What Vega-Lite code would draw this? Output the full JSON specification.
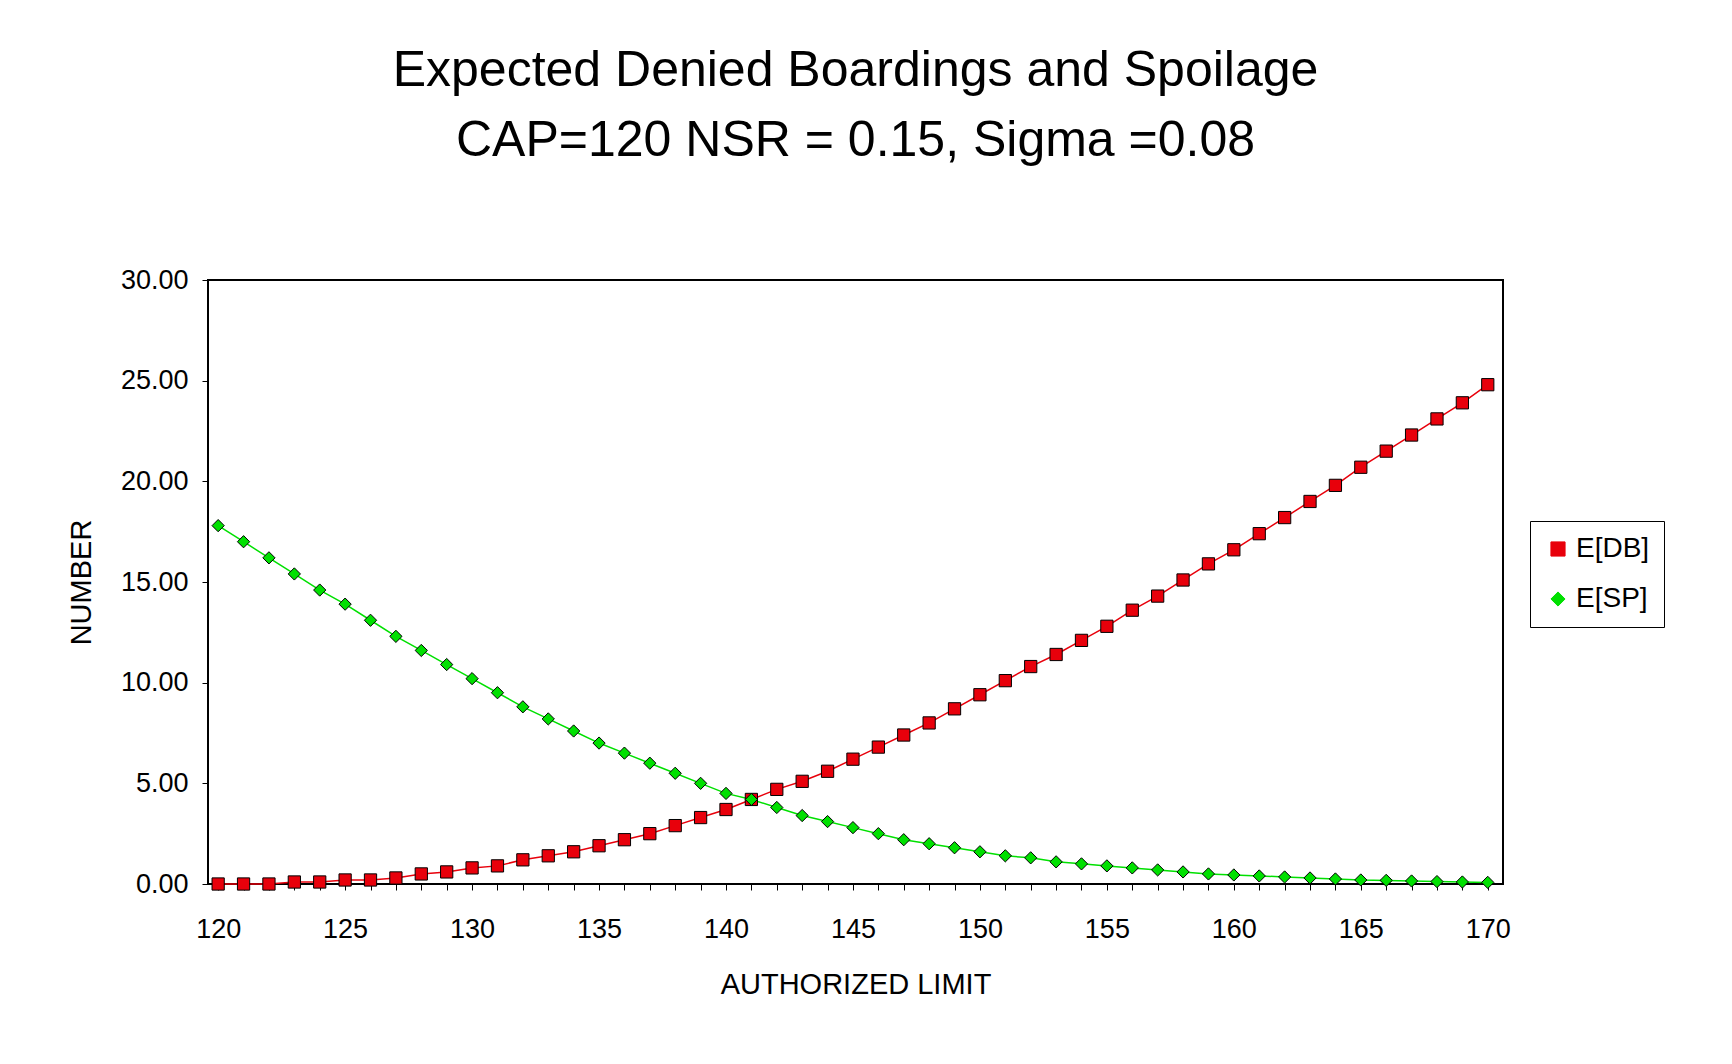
{
"$schema":"https://vega.github.io/schema/vega-lite/v6.json",
"autosize":{"type":"none"},
"width":1295,"height":604,
"padding":{"left":208,"top":280,"right":229,"bottom":180},
"background":"white",
"title":{"text":["Expected Denied Boardings and Spoilage","CAP=120 NSR = 0.15, Sigma =0.08"],"font":"Liberation Sans","fontSize":50,"fontWeight":"normal","lineHeight":70,"offset":100,"color":"black"},
"config":{"view":{"stroke":"black","strokeWidth":2},"font":"Liberation Sans"},
"data":{"values":[
{"x":120,"DB":0.0,"SP":17.8},{"x":121,"DB":0.0,"SP":17.0},{"x":122,"DB":0.0,"SP":16.2},{"x":123,"DB":0.1,"SP":15.4},{"x":124,"DB":0.1,"SP":14.6},{"x":125,"DB":0.2,"SP":13.9},{"x":126,"DB":0.2,"SP":13.1},{"x":127,"DB":0.3,"SP":12.3},{"x":128,"DB":0.5,"SP":11.6},{"x":129,"DB":0.6,"SP":10.9},{"x":130,"DB":0.8,"SP":10.2},{"x":131,"DB":0.9,"SP":9.5},{"x":132,"DB":1.2,"SP":8.8},{"x":133,"DB":1.4,"SP":8.2},{"x":134,"DB":1.6,"SP":7.6},{"x":135,"DB":1.9,"SP":7.0},{"x":136,"DB":2.2,"SP":6.5},{"x":137,"DB":2.5,"SP":6.0},{"x":138,"DB":2.9,"SP":5.5},{"x":139,"DB":3.3,"SP":5.0},{"x":140,"DB":3.7,"SP":4.5},{"x":141,"DB":4.2,"SP":4.2},{"x":142,"DB":4.7,"SP":3.8},{"x":143,"DB":5.1,"SP":3.4},{"x":144,"DB":5.6,"SP":3.1},{"x":145,"DB":6.2,"SP":2.8},{"x":146,"DB":6.8,"SP":2.5},{"x":147,"DB":7.4,"SP":2.2},{"x":148,"DB":8.0,"SP":2.0},{"x":149,"DB":8.7,"SP":1.8},{"x":150,"DB":9.4,"SP":1.6},{"x":151,"DB":10.1,"SP":1.4},{"x":152,"DB":10.8,"SP":1.3},{"x":153,"DB":11.4,"SP":1.1},{"x":154,"DB":12.1,"SP":1.0},{"x":155,"DB":12.8,"SP":0.9},{"x":156,"DB":13.6,"SP":0.8},{"x":157,"DB":14.3,"SP":0.7},{"x":158,"DB":15.1,"SP":0.6},{"x":159,"DB":15.9,"SP":0.5},{"x":160,"DB":16.6,"SP":0.45},{"x":161,"DB":17.4,"SP":0.4},{"x":162,"DB":18.2,"SP":0.35},{"x":163,"DB":19.0,"SP":0.3},{"x":164,"DB":19.8,"SP":0.25},{"x":165,"DB":20.7,"SP":0.2},{"x":166,"DB":21.5,"SP":0.18},{"x":167,"DB":22.3,"SP":0.15},{"x":168,"DB":23.1,"SP":0.12},{"x":169,"DB":23.9,"SP":0.1},{"x":170,"DB":24.8,"SP":0.08}
]},
"transform":[{"fold":["DB","SP"],"as":["key","value"]},{"calculate":"datum.key=='DB'?'E[DB]':'E[SP]'","as":"series"}],
"encoding":{
"x":{"field":"x","type":"quantitative","scale":{"domain":[119.6,170.6],"nice":false,"zero":false},"axis":{"values":[120,121,122,123,124,125,126,127,128,129,130,131,132,133,134,135,136,137,138,139,140,141,142,143,144,145,146,147,148,149,150,151,152,153,154,155,156,157,158,159,160,161,162,163,164,165,166,167,168,169,170],"labelExpr":"datum.value%5==0?datum.label:''","grid":false,"tickColor":"black","tickSize":6,"domainColor":"black","labelFontSize":27,"labelPadding":26,"labelColor":"black","title":"AUTHORIZED LIMIT","titleFontSize":29,"titleFontWeight":"normal","titlePadding":28,"titleColor":"black"}},
"y":{"field":"value","type":"quantitative","scale":{"domain":[0,30],"nice":false},"axis":{"values":[0,5,10,15,20,25,30],"format":".2f","grid":false,"tickColor":"black","tickSize":6,"domainColor":"black","labelFontSize":27,"labelPadding":14,"labelColor":"black","title":"NUMBER","titleFontSize":29,"titleFontWeight":"normal","titlePadding":24,"titleColor":"black"}},
"color":{"field":"series","type":"nominal","scale":{"domain":["E[DB]","E[SP]"],"range":["#e8000b","#00e000"]},"legend":{"title":null,"orient":"none","legendX":1322,"legendY":241,"labelFontSize":28,"labelColor":"black","strokeColor":"black","padding":14,"fillColor":"white","rowPadding":22,"symbolSize":200,"symbolStrokeColor":"black","symbolStrokeWidth":1,"symbolType":"stroke"}}
},
"layer":[
{"mark":{"type":"line","strokeWidth":1.5}},
{"mark":{"type":"point","filled":true,"stroke":"black","strokeWidth":1,"size":150,"opacity":1},"encoding":{"shape":{"field":"series","type":"nominal","scale":{"domain":["E[DB]","E[SP]"],"range":["square","diamond"]},"legend":null}}}
]
}
